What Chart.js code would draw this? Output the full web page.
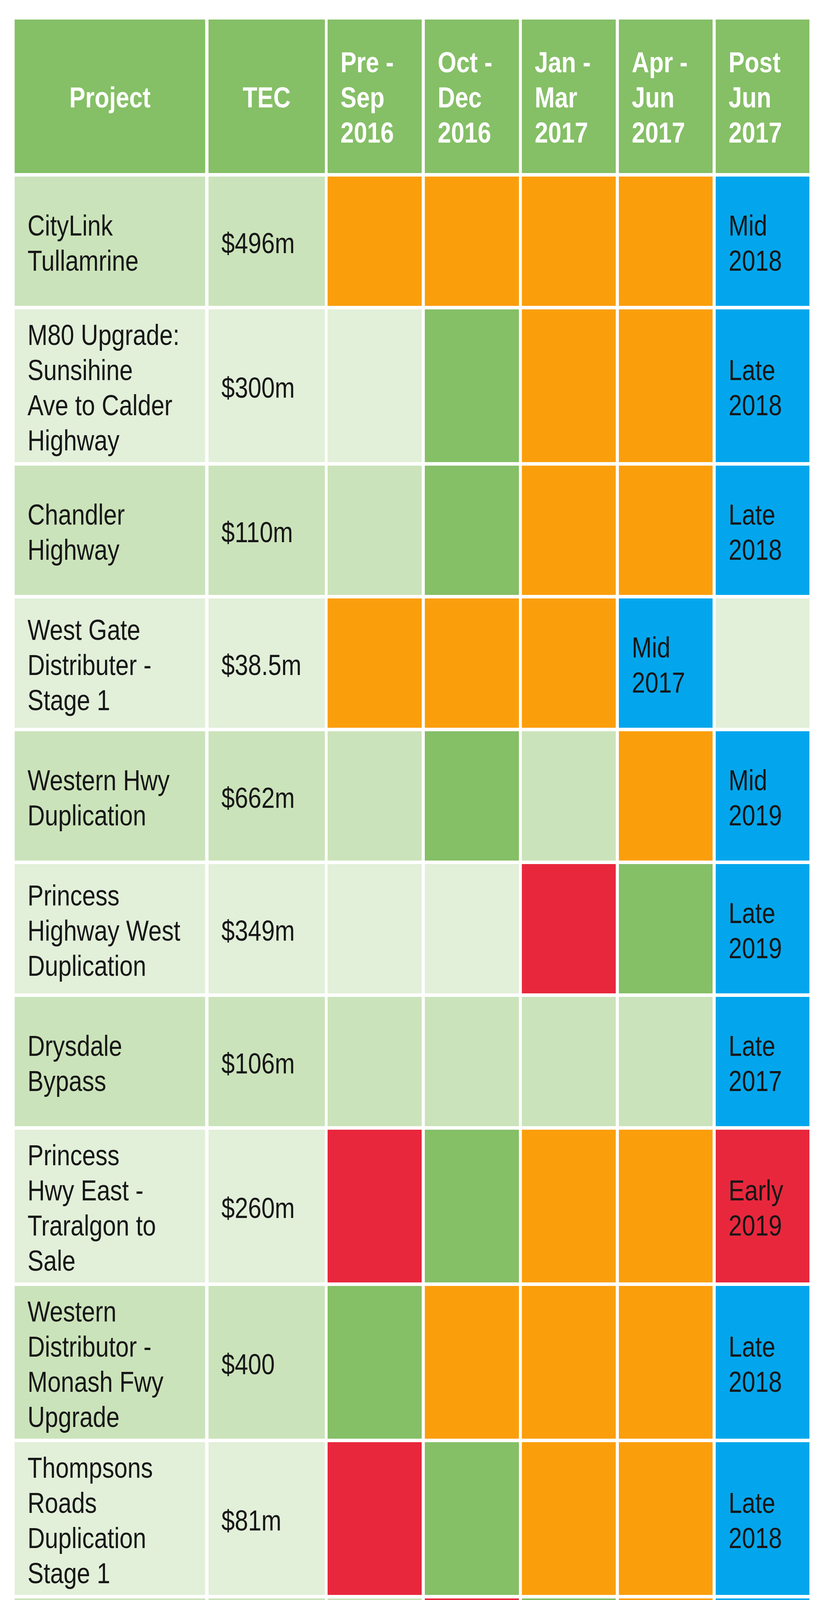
<!DOCTYPE html>
<html>
<head>
<meta charset="utf-8">
<title>Road projects timeline</title>
<script src="https://cdn.jsdelivr.net/npm/chart.js@4.4.1/dist/chart.umd.min.js"></script>
<style>
  html, body { margin: 0; padding: 0; background: #ffffff; }
  #wrap { width: 2095px; height: 5462px; }
</style>
</head>
<body>
<div id="wrap"><canvas id="chart" width="2095" height="5462"></canvas></div>
<script>
// ---------------- DATA ----------------
const columnHeaders = ["Project", "TEC"];
const periods = [
  ["Pre -", "Sep", "2016"],
  ["Oct -", "Dec", "2016"],
  ["Jan -", "Mar", "2017"],
  ["Apr -", "Jun", "2017"],
  ["Post", "Jun", "2017"]
];
const projects = [
  ["CityLink", "Tullamrine"],
  ["M80 Upgrade:", "Sunsihine", "Ave to Calder", "Highway"],
  ["Chandler", "Highway"],
  ["West Gate", "Distributer -", "Stage 1"],
  ["Western Hwy", "Duplication"],
  ["Princess", "Highway West", "Duplication"],
  ["Drysdale", "Bypass"],
  ["Princess", "Hwy East -", "Traralgon to", "Sale"],
  ["Western", "Distributor -", "Monash Fwy", "Upgrade"],
  ["Thompsons", "Roads", "Duplication", "Stage 1"],
  ["Thompsons", "Roads", "Duplication", "Stage 2"],
  ["Yan Yean Road", "Duplication"],
  ["Hoddle Street"]
];
const tec = ["$496m", "$300m", "$110m", "$38.5m", "$662m", "$349m", "$106m",
             "$260m", "$400", "$81m", "", "$126m", "$60.3"];
// E = advertising/EOI, A = award, C = construction, D = completion, "" = nothing
const stages = [
  ["C", "C", "C", "C", "D"],
  ["",  "A", "C", "C", "D"],
  ["",  "A", "C", "C", "D"],
  ["C", "C", "C", "D", ""],
  ["",  "A", "",  "C", "D"],
  ["",  "",  "E", "A", "D"],
  ["",  "",  "",  "",  "D"],
  ["E", "A", "C", "C", "E"],
  ["A", "C", "C", "C", "D"],
  ["E", "A", "C", "C", "D"],
  ["",  "E", "A", "C", "D"],
  ["",  "",  "E", "A", "D"],
  ["E", "E", "A", "C", "D"]
];
const dueLabels = ["Mid 2018", "Late 2018", "Late 2018", "Mid 2017", "Mid 2019", "Late 2019",
                   "Late 2017", "Early 2019", "Late 2018", "Late 2018", "Mid 2019", "Mid 2020", "Mid 2019"];
const stageKeys = ["E", "A", "C", "D"];
const stageNames = ["ADVERTISING/EOI", "AWARD", "CONSTRUCTION", "COMPLETION"];

// ---------------- STYLE / LAYOUT ----------------
const STAGE_COLORS = { E: "#E8273D", A: "#85BF66", C: "#FB9E0C", D: "#03A6EC" };
const HEADER_COLOR = "#85BF66";
const ROW_COLORS = ["#CBE3BA", "#E2EFD9"];
const TEXT_COLOR = "#161616";
const LAYOUT = {
  top: 50, headerH: 393, gap: 9, rowH: 331, rowHTall: 391, tallLines: 4,
  colLeft: [37.5, 534, 839, 1088, 1336.5, 1585, 1833],
  colWidth: [488, 298, 241, 241, 240.5, 240, 240],
  pad: 33, fontSize: 74, lineH: 90, textDy: 4, headerDy: 2, squeeze: 0.83,
  legendTop: 5256, legendH: 141, chevron: 36,
  legendLeft: [29.5, 574, 974, 1518], legendWidth: [530.5, 387, 530, 529.5],
  legendFont: 68, legendSqueeze: 0.785
};
const FAMILY = '"Liberation Sans Narrow", "Arial Narrow", "Liberation Sans", Arial, sans-serif';
const REF_FAMILY = '"Liberation Sans", Arial, sans-serif';

// ---------------- ROW GEOMETRY (from line counts) ----------------
const rowSpans = [];
(function () {
  let y = LAYOUT.top;
  rowSpans.push([y, y + LAYOUT.headerH]);
  y += LAYOUT.headerH + LAYOUT.gap;
  projects.forEach(lines => {
    const h = lines.length >= LAYOUT.tallLines ? LAYOUT.rowHTall : LAYOUT.rowH;
    rowSpans.push([y, y + h]);
    y += h + LAYOUT.gap;
  });
})();

function dueIndex(r) {
  let idx = -1;
  stages[r].forEach((s, i) => { if (s) idx = i; });
  return idx;
}

// ---------------- DATASETS (one per table column) ----------------
const datasets = [];
for (let c = 0; c < 7; c++) {
  const center = LAYOUT.colLeft[c] + LAYOUT.colWidth[c] / 2;
  const data = rowSpans.map(span => ({ x: center, y: span }));
  const colors = [HEADER_COLOR];
  const texts = [];
  const aligns = [];
  if (c === 0) { texts.push([columnHeaders[0]]); aligns.push("center"); }
  else if (c === 1) { texts.push([columnHeaders[1]]); aligns.push("center"); }
  else { texts.push(periods[c - 2]); aligns.push("left"); }
  projects.forEach((p, r) => {
    const rowBg = ROW_COLORS[r % 2];
    if (c === 0) { colors.push(rowBg); texts.push(p); }
    else if (c === 1) { colors.push(rowBg); texts.push(tec[r] ? [tec[r]] : []); }
    else {
      const s = stages[r][c - 2];
      colors.push(s ? STAGE_COLORS[s] : rowBg);
      texts.push(dueIndex(r) === c - 2 ? dueLabels[r].split(" ") : []);
    }
    aligns.push("left");
  });
  datasets.push({
    label: c === 0 ? columnHeaders[0] : c === 1 ? columnHeaders[1] : periods[c - 2].join(" "),
    data: data,
    backgroundColor: colors,
    borderWidth: 0,
    inflateAmount: 0,
    grouped: false,
    barThickness: LAYOUT.colWidth[c],
    cellText: texts,
    cellAlign: aligns
  });
}

// ---------------- TEXT HELPERS ----------------
function drawCondensed(ctx, text, x, y, size, bold, ratio, align) {
  const weight = bold ? "bold " : "";
  ctx.font = weight + size + "px " + REF_FAMILY;
  const target = ctx.measureText(text).width * ratio;
  ctx.font = weight + size + "px " + FAMILY;
  const w = ctx.measureText(text).width;
  const sx = w > 0 ? target / w : 1;
  ctx.save();
  ctx.translate(x, y);
  ctx.scale(sx, 1);
  ctx.textAlign = align;
  ctx.textBaseline = "alphabetic";
  ctx.fillText(text, 0, 0);
  ctx.restore();
}

const cellTextPlugin = {
  id: "cellText",
  afterDatasetsDraw(chart) {
    const ctx = chart.ctx;
    const cap = LAYOUT.fontSize * 0.729;
    chart.data.datasets.forEach((ds, di) => {
      const meta = chart.getDatasetMeta(di);
      meta.data.forEach((el, ri) => {
        const lines = ds.cellText[ri];
        if (!lines || !lines.length) return;
        const props = el.getProps(["x", "y", "base", "width"], true);
        const top = Math.min(props.y, props.base);
        const bottom = Math.max(props.y, props.base);
        const left = props.x - props.width / 2;
        const isHeader = ri === 0;
        const mid = (top + bottom) / 2 + (isHeader ? LAYOUT.headerDy : LAYOUT.textDy);
        const first = mid + cap / 2 - (lines.length - 1) * LAYOUT.lineH / 2;
        const align = ds.cellAlign[ri];
        const tx = align === "center" ? props.x : left + LAYOUT.pad;
        ctx.fillStyle = isHeader ? "#ffffff" : TEXT_COLOR;
        lines.forEach((line, k) => {
          drawCondensed(ctx, line, tx, first + k * LAYOUT.lineH, LAYOUT.fontSize, isHeader, LAYOUT.squeeze, align);
        });
      });
    });
  }
};

const chevronLegendPlugin = {
  id: "chevronLegend",
  afterDraw(chart) {
    const ctx = chart.ctx;
    const t = LAYOUT.legendTop, h = LAYOUT.legendH, d = LAYOUT.chevron;
    const cy = t + h / 2;
    stageKeys.forEach((key, i) => {
      const x0 = LAYOUT.legendLeft[i], w = LAYOUT.legendWidth[i];
      ctx.save();
      ctx.beginPath();
      ctx.moveTo(x0, t);
      ctx.lineTo(x0 + w, t);
      ctx.lineTo(x0 + w + d, cy);
      ctx.lineTo(x0 + w, t + h);
      ctx.lineTo(x0, t + h);
      ctx.lineTo(x0 + d, cy);
      ctx.closePath();
      ctx.fillStyle = STAGE_COLORS[key];
      ctx.fill();
      ctx.fillStyle = "#ffffff";
      const capH = LAYOUT.legendFont * 0.729;
      drawCondensed(ctx, stageNames[i], x0 + (w + d) / 2, cy + capH / 2 + 2,
                    LAYOUT.legendFont, true, LAYOUT.legendSqueeze, "center");
      ctx.restore();
    });
  }
};

// ---------------- CHART ----------------
new Chart(document.getElementById("chart"), {
  type: "bar",
  data: { datasets: datasets },
  options: {
    responsive: false,
    devicePixelRatio: 1,
    animation: false,
    events: [],
    indexAxis: "x",
    layout: { padding: 0 },
    plugins: { legend: { display: false }, tooltip: { enabled: false } },
    scales: {
      x: { type: "linear", min: 0, max: 2095, offset: false, display: false, grid: { display: false } },
      y: { type: "linear", min: 0, max: 5462, reverse: true, display: false, grid: { display: false } }
    }
  },
  plugins: [cellTextPlugin, chevronLegendPlugin]
});
</script>
</body>
</html>
